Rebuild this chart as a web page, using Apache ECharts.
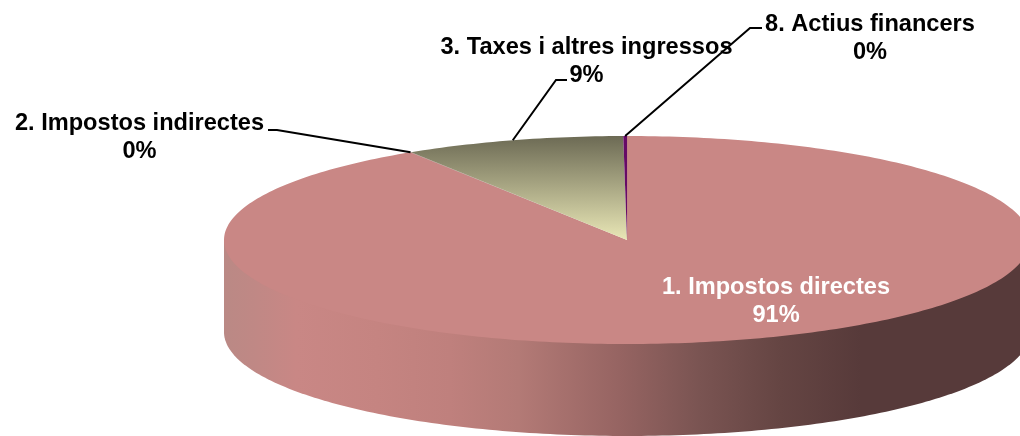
<!DOCTYPE html>
<html>
<head>
<meta charset="utf-8">
<style>
  html, body { margin: 0; padding: 0; background: #fff; }
  #chart { width: 1020px; height: 436px; }
</style>
<script src="https://cdn.jsdelivr.net/npm/echarts@6/dist/echarts.min.js"></script>
</head>
<body>
<div id="chart"></div>
<script>
const categories = ['1. Impostos directes', '2. Impostos indirectes', '3. Taxes i altres ingressos', '8. Actius financers'];
const shareValues = [90.95, 0.05, 8.85, 0.15];
const shareLabels = ['91%', '0%', '9%', '0%'];

const fontFamily = "'Liberation Sans', Arial, sans-serif";
const depth = 92; // alçada de la paret del pastís
const total = shareValues.reduce((a, b) => a + b, 0);

// on comença cada porció, en fracció de volta (sentit horari des de dalt)
const startShare = [];
shareValues.forEach((v, i) => {
  startShare.push(i === 0 ? 0 : startShare[i - 1] + shareValues[i - 1] / total);
});

const rimPoint = (share) => {
  const a = share * Math.PI * 2;
  return [Math.sin(a), Math.cos(a)];
};

const arcPoints = (api, from, to) => {
  const pts = [];
  const steps = Math.max(2, Math.ceil((to - from) * 360));
  for (let i = 0; i <= steps; i++) {
    pts.push(api.coord(rimPoint(from + ((to - from) * i) / steps)));
  }
  return pts;
};

const topFills = [
  '#c98785',
  '#a06a68',
  {
    type: 'linear', x: 0, y: 0, x2: 0, y2: 1,
    colorStops: [
      { offset: 0, color: '#6c6a54' },
      { offset: 1, color: '#e9e7b6' },
    ],
  },
  '#660a66',
];

const wallFill = {
  type: 'linear', x: 0, y: 0, x2: 1, y2: 0,
  colorStops: [
    { offset: 0, color: '#ba8985' },
    { offset: 0.04, color: '#c08885' },
    { offset: 0.09, color: '#c98785' },
    { offset: 0.19, color: '#c58481' },
    { offset: 0.28, color: '#bf807d' },
    { offset: 0.365, color: '#b37a76' },
    { offset: 0.49, color: '#966462' },
    { offset: 0.59, color: '#7a5452' },
    { offset: 0.69, color: '#654543' },
    { offset: 0.79, color: '#573a3a' },
    { offset: 1, color: '#573a3a' },
  ],
};

const labelLayout = [
  { x: 776, y: 301, color: '#ffffff' },
  { x: 139.5, y: 137, color: '#000000', elbow: [277, 130], end: [268, 130] },
  { x: 586.5, y: 61, color: '#000000', elbow: [556, 80], end: [567, 80] },
  { x: 870, y: 38, color: '#000000', elbow: [750, 28], end: [762, 28] },
];

const renderPie = (params, api) => {
  const i = params.dataIndex;
  const from = startShare[i];
  const to = from + api.value(1) / total;
  const children = [];
  const centre = api.coord([0, 0]);

  // paret frontal, només un cop i per sota de tot; puja fins al centre perquè no quedi cap junta clara
  if (i === 0) {
    const front = arcPoints(api, 0.25, 0.75);
    const lower = front.map((p) => [p[0], p[1] + depth]).reverse();
    children.push({
      type: 'polygon',
      shape: { points: [front[front.length - 1]].concat(lower, [front[0]]) },
      style: { fill: wallFill },
    });
  }

  children.push({
    type: 'polygon',
    shape: { points: [centre].concat(arcPoints(api, from, to)) },
    style: { fill: topFills[i] },
  });

  const layout = labelLayout[i];
  if (layout.elbow) {
    const mid = api.coord(rimPoint(from + (to - from) / 2));
    children.push({
      type: 'polyline',
      shape: { points: [mid, layout.elbow, layout.end] },
      style: { stroke: '#000', lineWidth: 2, fill: 'none' },
      z2: 5,
    });
  }
  children.push({
    type: 'text',
    x: layout.x,
    y: layout.y,
    style: {
      text: categories[i] + '\n' + shareLabels[i],
      fill: layout.color,
      font: 'bold 23.6px ' + fontFamily,
      lineHeight: 28,
      align: 'center',
      verticalAlign: 'middle',
    },
    z2: 10,
  });
  return { type: 'group', children };
};

const chart = echarts.init(document.getElementById('chart'));
chart.setOption({
  animation: false,
  backgroundColor: '#ffffff',
  // la graella no quadrada és la que aixafa el cercle en el·lipse; el pastís es talla a la dreta
  grid: { left: 224, top: 136, width: 796, height: 208 },
  xAxis: { type: 'value', min: -1, max: 0.975, show: false },
  yAxis: { type: 'value', min: -1, max: 1, show: false },
  series: [
    {
      type: 'custom',
      coordinateSystem: 'cartesian2d',
      clip: false,
      silent: true,
      renderItem: renderPie,
      encode: { x: 0, y: 1 },
      data: shareValues.map((v, i) => [i, v]),
    },
  ],
});
</script>
</body>
</html>
